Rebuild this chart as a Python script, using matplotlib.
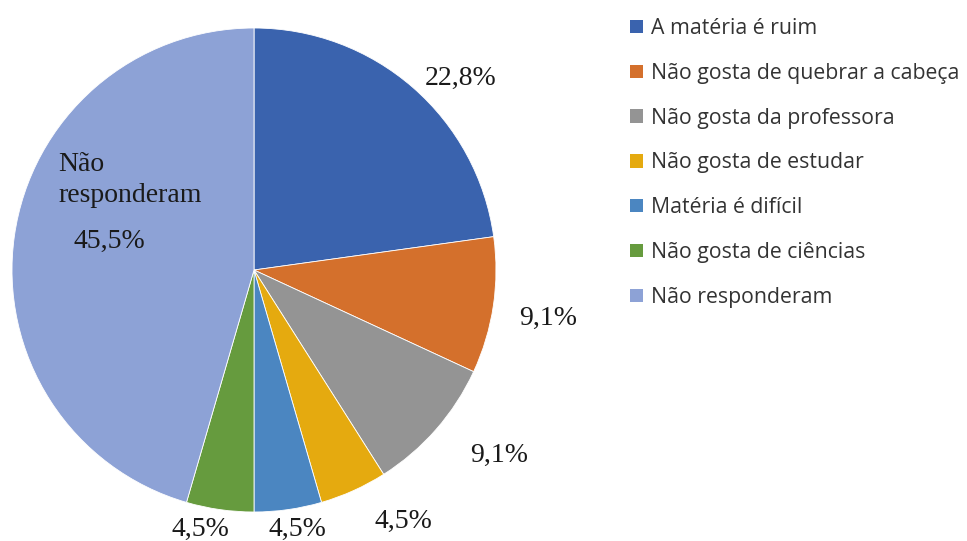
import matplotlib
matplotlib.use("Agg")
import matplotlib.pyplot as plt
from matplotlib.patches import Patch

# Motivos apontados pelos alunos (%)
categories = [
    "A matéria é ruim",
    "Não gosta de quebrar a cabeça",
    "Não gosta da professora",
    "Não gosta de estudar",
    "Matéria é difícil",
    "Não gosta de ciências",
    "Não responderam",
]
values = [22.8, 9.1, 9.1, 4.5, 4.5, 4.5, 45.5]
colors = ["#3A63AE", "#D4702C", "#949494", "#E5AA0F", "#4B86C1", "#669B3E", "#8DA2D6"]

W, H = 967, 541
fig = plt.figure(figsize=(W / 100, H / 100), dpi=100)
ax = fig.add_axes([0, 0, 1, 1])

wedges, _ = ax.pie(
    values,
    colors=colors,
    startangle=90,
    counterclock=False,
    center=(254, H - 270),
    radius=242,
    wedgeprops=dict(edgecolor="white", linewidth=0.6),
)
ax.set_xlim(0, W)
ax.set_ylim(0, H)
ax.set_aspect("equal")
ax.axis("off")

def pct(v):
    return f"{v:.1f}%".replace(".", ",")

serif = dict(family="Liberation Serif", fontsize=20, color="#1a1a1a")

# data label anchor points (pixels from top-left)
label_pos = [(461, 78), (548, 318), (499, 455), (403, 521), (297, 529), (200, 529), (109, 241)]
for v, (x, y) in zip(values, label_pos):
    ax.text(x, H - y, pct(v), ha="center", va="center", **serif)

# category name above the largest slice's value
ax.text(58, H - 180, "Não\nresponderam", ha="left", va="center",
        linespacing=1.3, **serif)

handles = [Patch(facecolor=c, edgecolor="none") for c in colors]
leg = fig.legend(
    handles, categories,
    loc="upper left",
    bbox_to_anchor=(630 / W, 1 - 18 / H),
    frameon=False,
    prop=dict(family="Open Sans", size=15.3),
    handlelength=0.6, handleheight=0.6,
    handletextpad=0.4,
    labelspacing=1.12,
    borderpad=0, borderaxespad=0,
)
for t in leg.get_texts():
    t.set_color("#333333")

fig.savefig("out.png", dpi=100, facecolor="white")
